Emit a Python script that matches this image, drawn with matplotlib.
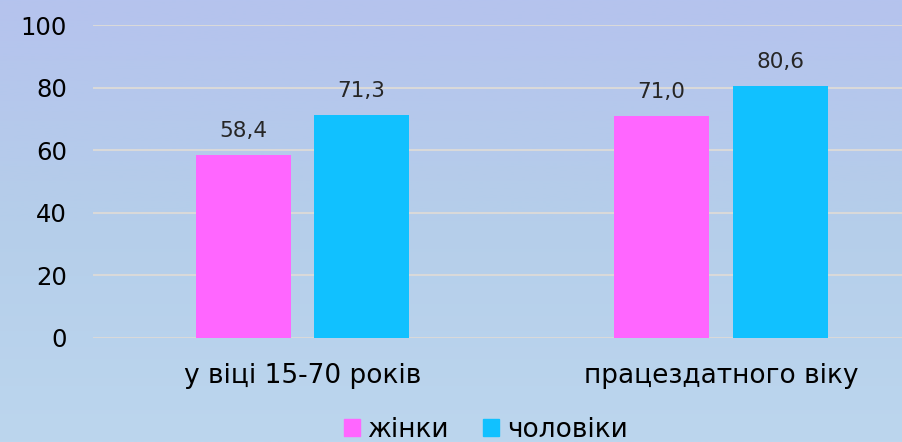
import numpy as np
import matplotlib.pyplot as plt
from matplotlib.colors import LinearSegmentedColormap
from matplotlib.patches import Patch

categories = ['у віці 15-70 років', 'працездатного віку']
women = [58.4, 71.0]
men = [71.3, 80.6]
series_names = ['жінки', 'чоловіки']
yticks = [0, 20, 40, 60, 80, 100]

pink = '#FF66FF'
blue = '#11C1FF'

fig = plt.figure(figsize=(9.03, 4.42), dpi=100)

# gradient background
bg = fig.add_axes([0, 0, 1, 1], zorder=-1)
cmap = LinearSegmentedColormap.from_list('bg', ['#B5C3EE', '#B5CEEA', '#BCD6EE'])
bg.imshow(np.linspace(0, 1, 256).reshape(-1, 1), aspect='auto', cmap=cmap,
          extent=[0, 1, 0, 1])
bg.axis('off')

ax = fig.add_axes([0.103, 0.2353, 0.897, 0.7081])
ax.patch.set_alpha(0)

x = np.arange(len(categories))
w = 0.227
off = 0.1415
b1 = ax.bar(x - off, women, w, color=pink, zorder=3)
b2 = ax.bar(x + off, men, w, color=blue, zorder=3)

for bars, vals in ((b1, women), (b2, men)):
    for r, v in zip(bars, vals):
        ax.annotate(f'{v:.1f}'.replace('.', ','),
                    (r.get_x() + r.get_width() / 2, v),
                    xytext=(0, 10), textcoords='offset points',
                    ha='center', va='bottom', fontsize=15.5, color='#262626')

ax.set_ylim(0, 100)
ax.set_xlim(-0.5, 1.435)
ax.set_yticks(yticks)
ax.set_yticklabels([str(t) for t in yticks], fontsize=17.5)
ax.set_xticks(x)
ax.set_xticklabels(categories, fontsize=19)
ax.tick_params(length=0)
ax.tick_params(axis='y', pad=18.7)
ax.tick_params(axis='x', pad=18)
ax.grid(axis='y', color='#D9D9D9', linewidth=1.5, zorder=0)
for s in ax.spines.values():
    s.set_visible(False)

handles = [Patch(color=pink), Patch(color=blue)]
fig.legend(handles, series_names, loc='lower center', ncol=2, frameon=False,
           fontsize=19, bbox_to_anchor=(0.538, -0.055), handlelength=0.6,
           handleheight=0.6, handletextpad=0.3, columnspacing=1.3)

fig.savefig('out.png', dpi=100)
